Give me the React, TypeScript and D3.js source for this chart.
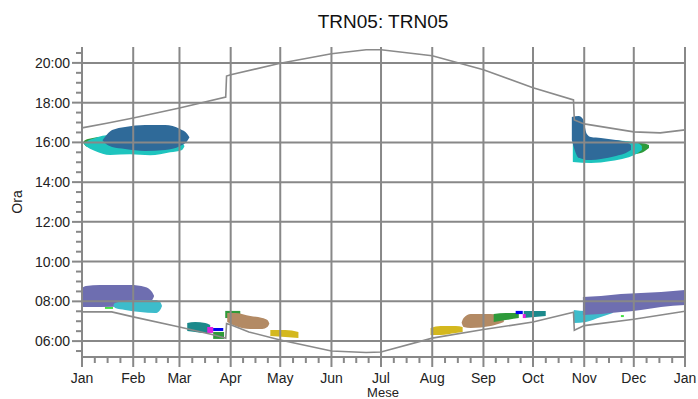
import * as d3 from "d3";

const W = 698;
const H = 399;

const MONTH_LABELS = ["Jan", "Feb", "Mar", "Apr", "May", "Jun", "Jul", "Aug", "Sep", "Oct", "Nov", "Dec", "Jan"];
const MONTH_DAYS = [0, 31, 59, 90, 120, 151, 181, 212, 243, 273, 304, 334, 365];
const HOUR_TICKS = [6, 8, 10, 12, 14, 16, 18, 20];

// [giorno dell'anno, ora decimale]
const SUNSET: [number, number][] = [
  [0, 16.73], [15, 16.96], [31, 17.23], [59, 17.73], [87, 18.28], [87.5, 19.34], [90, 19.4],
  [120, 19.98], [151, 20.46], [172, 20.66], [181, 20.66], [212, 20.36], [243, 19.65],
  [273, 18.75], [297.5, 18.14], [298, 17.13], [304, 16.93], [334, 16.53], [350, 16.48], [365, 16.63],
];
const SUNRISE: [number, number][] = [
  [0, 7.47], [18, 7.47], [31, 7.22], [59, 6.71], [80, 6.31], [87, 6.14], [87.5, 6.88], [90, 6.82],
  [101, 6.46], [120, 6.06], [151, 5.5], [172, 5.43], [181, 5.45], [212, 6.15], [243, 6.58],
  [273, 6.96], [297.5, 7.45], [298, 6.55], [304, 6.78], [334, 7.1], [365, 7.5],
];

// macchie: [giorno, ora min, ora max]
type Pt = [number, number, number];
const FEB_GREEN: Pt[] = [[0.8, 15.98, 16.0], [1.2, 15.92, 16.07], [3.6, 15.77, 16.17], [6.5, 15.8, 16.22], [9.7, 15.95, 16.27]];
const FEB_CYAN: Pt[] = [[1.2, 15.92, 15.94], [2.4, 15.82, 16.02], [7.9, 15.57, 16.22], [17, 15.37, 16.37], [29.1, 15.4, 16.12], [41.2, 15.35, 15.87], [53.4, 15.5, 15.87], [60.6, 15.62, 15.97], [62, 15.8, 15.82]];
const FEB_BLUE: Pt[] = [[12.5, 16.1, 16.12], [13.9, 15.97, 16.27], [18.2, 15.77, 16.62], [26.1, 15.67, 16.78], [38.2, 15.57, 16.88], [50.3, 15.62, 16.88], [59.4, 15.82, 16.67], [63.7, 16.07, 16.42], [65, 16.24, 16.26]];

const NOV_GREEN: Pt[] = [[334.1, 15.42, 15.97], [338.3, 15.47, 15.97], [343.2, 15.72, 15.87]];
const NOV_CYAN: Pt[] = [[297.1, 15.01, 16.22], [308, 14.96, 16.22], [320.1, 15.06, 16.12], [329.2, 15.21, 16.07], [336.5, 15.47, 15.97], [338.9, 15.62, 15.82]];
const NOV_BLUE: Pt[] = [[296.5, 16.12, 17.28], [300.7, 15.21, 17.33], [303.2, 15.16, 17.18], [305.6, 15.11, 16.42], [308, 15.11, 16.27], [314.1, 15.16, 16.22], [323.2, 15.32, 16.12], [329.2, 15.47, 16.02], [332.3, 15.62, 15.87]];

const JAN_PURPLE: Pt[] = [[0, 7.72, 8.67], [2.4, 7.72, 8.77], [10.9, 7.72, 8.82], [29.1, 7.77, 8.82], [38.2, 7.92, 8.72], [42.4, 8.07, 8.47], [43.6, 8.26, 8.28]];
const JAN_LCYAN: Pt[] = [[19, 7.79, 7.81], [20, 7.67, 7.92], [26.1, 7.57, 8.02], [35.2, 7.46, 8.07], [44.3, 7.41, 8.07], [47.3, 7.57, 7.97], [48.4, 7.76, 7.78]];
const JAN_LGREEN: Pt[] = [[13.9, 7.62, 7.72], [18.8, 7.62, 7.72]];

const MAR_TEAL: Pt[] = [[63.7, 6.51, 6.91], [68.5, 6.46, 6.96], [74.6, 6.41, 6.91], [77.6, 6.41, 6.81]];
const MAR_MAGENTA: Pt[] = [[75.8, 6.41, 6.71], [79.4, 6.41, 6.71]];
const MAR_BLUE: Pt[] = [[79.4, 6.51, 6.66], [85.5, 6.51, 6.66]];
const MAR_GREEN: Pt[] = [[79.4, 6.11, 6.46], [86, 6.11, 6.46]];

const APR_GREEN: Pt[] = [[86.7, 7.16, 7.52], [95.8, 7.16, 7.52]];
const APR_TAN: Pt[] = [[87.9, 6.96, 7.41], [92.8, 6.76, 7.41], [101.9, 6.61, 7.26], [109.1, 6.61, 7.16], [112.2, 6.71, 7.06], [113.4, 6.87, 6.89]];
const MAY_YELLOW: Pt[] = [[114, 6.26, 6.56], [123.1, 6.21, 6.56], [131, 6.16, 6.46]];

const AUG_YELLOW: Pt[] = [[211, 6.31, 6.66], [217.1, 6.31, 6.76], [226.2, 6.41, 6.76], [230.4, 6.46, 6.71]];
const SEP_TAN: Pt[] = [[229.8, 6.92, 6.94], [231, 6.71, 7.16], [235.3, 6.66, 7.36], [247.4, 6.76, 7.36], [255.3, 6.96, 7.26]];
const SEP_GREEN: Pt[] = [[249.2, 6.96, 7.36], [256.5, 7.06, 7.41], [264.4, 7.16, 7.41]];
const SEP_BLUE: Pt[] = [[262.5, 7.36, 7.52], [266.8, 7.36, 7.52]];
const SEP_MAGENTA: Pt[] = [[266.8, 7.16, 7.36], [268.6, 7.16, 7.36]];
const SEP_TEAL: Pt[] = [[267.4, 7.16, 7.52], [280.7, 7.26, 7.52]];

const NOVR_LCYAN: Pt[] = [[297.7, 6.91, 7.57], [305, 6.96, 7.52], [314.1, 7.21, 7.52], [321.3, 7.41, 7.52]];
const NOVR_PURPLE: Pt[] = [[303.2, 7.31, 8.22], [314.1, 7.36, 8.27], [326.2, 7.46, 8.37], [338.3, 7.57, 8.42], [350.5, 7.72, 8.47], [365, 7.82, 8.57]];
const NOVR_LGREEN: Pt[] = [[326.2, 7.21, 7.31], [328, 7.21, 7.31]];

const C = {
  darkBlue: "#2f6a99",
  cyan: "#1ec4be",
  green: "#2e9a3a",
  purple: "#6e6eb0",
  lightCyan: "#3dbccb",
  lightGreen: "#44e044",
  teal: "#1b898b",
  magenta: "#e020e0",
  blue: "#0000f0",
  tan: "#b38a64",
  yellow: "#d4b81e",
};

const BLOBS: { color: string; pts: Pt[] }[] = [
  { color: C.green, pts: FEB_GREEN },
  { color: C.cyan, pts: FEB_CYAN },
  { color: C.darkBlue, pts: FEB_BLUE },
  { color: C.green, pts: NOV_GREEN },
  { color: C.cyan, pts: NOV_CYAN },
  { color: C.darkBlue, pts: NOV_BLUE },
  { color: C.lightGreen, pts: JAN_LGREEN },
  { color: C.purple, pts: JAN_PURPLE },
  { color: C.lightCyan, pts: JAN_LCYAN },
  { color: C.teal, pts: MAR_TEAL },
  { color: C.magenta, pts: MAR_MAGENTA },
  { color: C.blue, pts: MAR_BLUE },
  { color: C.green, pts: MAR_GREEN },
  { color: C.green, pts: APR_GREEN },
  { color: C.tan, pts: APR_TAN },
  { color: C.yellow, pts: MAY_YELLOW },
  { color: C.yellow, pts: AUG_YELLOW },
  { color: C.tan, pts: SEP_TAN },
  { color: C.green, pts: SEP_GREEN },
  { color: C.blue, pts: SEP_BLUE },
  { color: C.teal, pts: SEP_TEAL },
  { color: C.magenta, pts: SEP_MAGENTA },
  { color: C.lightCyan, pts: NOVR_LCYAN },
  { color: C.purple, pts: NOVR_PURPLE },
  { color: C.lightGreen, pts: NOVR_LGREEN },
];

const pad2 = (n: number) => (n < 10 ? "0" + n : "" + n);

export default function App() {
  const left = 82, right = 685, top = 47, bottom = 357;
  const x = d3.scaleLinear().domain([0, 365]).range([left, right]);
  const y = d3.scaleLinear().domain([5.2, 20.8]).range([bottom, top]);

  const area = d3
    .area<Pt>()
    .x((d) => x(d[0]))
    .y0((d) => y(d[1]))
    .y1((d) => y(d[2]))
    .curve(d3.curveMonotoneX);

  const line = d3
    .line<[number, number]>()
    .x((d) => x(d[0]))
    .y((d) => y(d[1]));

  const minorX: number[] = [];
  for (let i = 0; i < MONTH_DAYS.length - 1; i++) {
    const a = MONTH_DAYS[i], b = MONTH_DAYS[i + 1];
    for (let k = 1; k < 4; k++) minorX.push(a + ((b - a) * k) / 4);
  }
  const minorY = d3.range(5.5, 20.6, 0.5).filter((h) => !HOUR_TICKS.includes(h));

  const grid = "#888888";
  const font = "'Liberation Sans', Arial, sans-serif";

  return (
    <svg width={W} height={H} style={{ position: "absolute", left: 0, top: 0, background: "#fff" }} fontFamily={font}>
      <rect width={W} height={H} fill="#fff" />
      <text x={383} y={28} textAnchor="middle" fontSize={19} fill="#111">TRN05: TRN05</text>

      {BLOBS.map((b, i) => (
        <path key={i} d={area(b.pts) || ""} fill={b.color} />
      ))}

      {MONTH_DAYS.map((d, i) => (
        <line key={"gv" + i} x1={x(d)} x2={x(d)} y1={top} y2={bottom} stroke={grid} strokeWidth={2} />
      ))}
      {HOUR_TICKS.map((h) => (
        <line key={"gh" + h} x1={left} x2={right} y1={y(h)} y2={y(h)} stroke={grid} strokeWidth={2} />
      ))}

      <path d={line(SUNSET) || ""} fill="none" stroke="#8a8a8a" strokeWidth={1.6} />
      <path d={line(SUNRISE) || ""} fill="none" stroke="#8a8a8a" strokeWidth={1.6} />

      {/* assi */}
      <line x1={left} x2={left} y1={top} y2={bottom} stroke={grid} strokeWidth={2} />
      <line x1={left} x2={right} y1={bottom} y2={bottom} stroke={grid} strokeWidth={2} />
      {HOUR_TICKS.map((h) => (
        <g key={"yt" + h}>
          <line x1={left - 10} x2={left} y1={y(h)} y2={y(h)} stroke={grid} strokeWidth={2} />
          <text x={left - 12} y={y(h)} dy="0.35em" textAnchor="end" fontSize={14} fill="#222">
            {pad2(h) + ":00"}
          </text>
        </g>
      ))}
      {minorY.map((h) => (
        <line key={"ym" + h} x1={left - 6} x2={left} y1={y(h)} y2={y(h)} stroke={grid} strokeWidth={2} />
      ))}
      {MONTH_DAYS.map((d, i) => (
        <g key={"xt" + i}>
          <line x1={x(d)} x2={x(d)} y1={bottom} y2={bottom + 10} stroke={grid} strokeWidth={2} />
          <text x={x(d)} y={383} textAnchor="middle" fontSize={14} fill="#222">{MONTH_LABELS[i]}</text>
        </g>
      ))}
      {minorX.map((d, i) => (
        <line key={"xm" + i} x1={x(d)} x2={x(d)} y1={bottom} y2={bottom + 6} stroke={grid} strokeWidth={2} />
      ))}

      <text transform="translate(22,202) rotate(-90)" textAnchor="middle" fontSize={14} fill="#222">Ora</text>
      <text x={383} y={397} textAnchor="middle" fontSize={13} fill="#222">Mese</text>
    </svg>
  );
}
